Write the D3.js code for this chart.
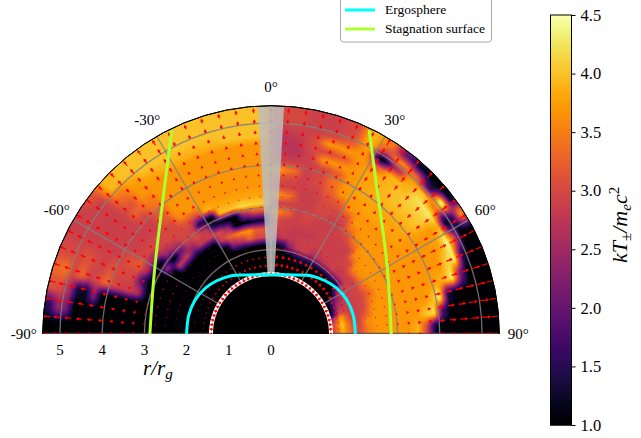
<!DOCTYPE html>
<html>
<head>
<meta charset="utf-8">
<script src="https://cdn.jsdelivr.net/npm/d3@7"></script>
<style>
  html, body { margin: 0; padding: 0; background: #fff; }
  text { font-family: "Liberation Serif", serif; fill: #000; }
</style>
</head>
<body>
<div id="chart"></div>
<script>
// cell centres of the temperature map
const thetaCenters = [-87.5, -82.5, -77.5, -72.5, -67.5, -62.5, -57.5, -52.5, -47.5, -42.5, -37.5, -32.5, -27.5, -22.5, -17.5, -12.5, -7.5, -2.5,
  2.5, 7.5, 12.5, 17.5, 22.5, 27.5, 32.5, 37.5, 42.5, 47.5, 52.5, 57.5, 62.5, 67.5, 72.5, 77.5, 82.5, 87.5];
const radiusCenters = [1.5, 1.7, 1.9, 2.1, 2.3, 2.5, 2.7, 2.9, 3.1, 3.3, 3.5, 3.7, 3.9, 4.1, 4.3, 4.5, 4.7, 4.9, 5.1, 5.3];

// kT/mc2, one line per angle, inner radius first
const temperature = [
  [1, 1, 1, 1, 1, 1, 1, 1, 1, 1, 1, 1, 1, 1, 1, 1, 1, 1, 1, 1],
  [1, 1, 1, 1, 1, 1, 1, 1, 1, 1, 1, 1, 1, 1, 1, 1, 1, 2.2, 2.4, 1.5],
  [1, 1, 1, 1, 1, 1, 1, 1, 1, 1, 1, 1, 1, 1, 2.3, 1.2, 1.3, 2.6, 3, 3.1],
  [1, 1, 1, 1, 1, 1, 1, 1, 1.2, 2.6, 2.9, 2.9, 3, 3.3, 3, 2.9, 3.3, 3, 3.4, 3.3],
  [1, 1, 1, 1, 1, 1, 1, 1, 1, 1.8, 2.9, 3, 3, 3.1, 2.9, 3, 3.1, 3, 3, 3],
  [1, 1, 1, 1, 1, 1, 1, 1, 1.1, 2.6, 3.2, 3.1, 3, 2.9, 2.9, 2.9, 2.9, 2.9, 2.9, 2.9],
  [1, 1, 1, 1, 1, 1, 1, 2.3, 1, 2.5, 3, 2.9, 2.9, 2.9, 2.9, 2.9, 2.9, 2.9, 2.9, 2.9],
  [1, 1, 1, 1, 1, 1, 2.8, 1, 2.4, 2.9, 3, 2.9, 2.9, 2.9, 2.9, 2.9, 2.9, 2.9, 2.9, 3.1],
  [1, 1, 1, 1, 1, 1, 2.8, 2, 2.7, 3, 3, 2.9, 2.9, 3, 3.3, 3.1, 3.3, 3.5, 3.9, 3.9],
  [1, 1, 1, 1, 1, 1, 2.2, 2.8, 3, 3, 3, 3.2, 3.2, 3.4, 3.5, 3.7, 3.7, 3.8, 4, 4],
  [1, 1, 1, 1, 1, 1, 2.8, 3, 2.9, 3.1, 3.6, 3.7, 3.7, 3.7, 3.7, 3.7, 3.8, 4, 4, 4],
  [1, 1, 1, 1, 1, 1, 2.9, 2.8, 1.4, 3, 3.7, 3.7, 3.7, 3.7, 3.7, 3.7, 3.9, 4, 4, 4],
  [1, 1, 1, 1, 1, 2.9, 3, 1.3, 1, 3.9, 3.7, 3.7, 3.7, 3.7, 3.7, 3.7, 3.9, 4, 4, 4],
  [1, 1, 1, 1, 2.4, 3.3, 2.5, 1, 4, 3.8, 3.7, 3.7, 3.7, 3.7, 3.7, 3.7, 3.9, 4, 4, 4],
  [1, 1, 1, 1, 2.7, 3.6, 1, 1, 4, 3.8, 3.7, 3.7, 3.7, 3.7, 3.7, 3.7, 3.9, 4, 4, 4],
  [1, 1, 1, 1, 3.2, 3.7, 1, 2.5, 4.2, 3.8, 3.7, 3.7, 3.7, 3.7, 3.7, 3.7, 4, 4, 4, 4],
  [1, 1, 1, 1, 3, 3.2, 1.2, 3, 4.1, 3.8, 3.7, 3.7, 3.7, 3.7, 3.7, 3.7, 4, 4, 4, 4],
  [1, 1, 1, 1, 3, 3.2, 1.2, 3, 4.1, 3.8, 3.7, 3.7, 3.7, 3.7, 3.7, 3.7, 4, 4, 4, 4],
  [1, 1, 1, 1, 2.6, 2.9, 3, 3.6, 2.9, 3.7, 2.9, 3.1, 3.7, 2.9, 2.8, 2.7, 2.7, 2.9, 3, 3],
  [1, 1, 1, 1.4, 2.8, 2.9, 2.9, 3.3, 2.9, 3.4, 2.9, 3, 3.4, 2.9, 2.7, 2.7, 2.8, 2.9, 3, 3],
  [1, 1, 1, 2.4, 2.8, 2.8, 2.9, 2.9, 2.9, 2.9, 2.9, 2.9, 2.9, 2.9, 2.9, 3, 3, 2.9, 2.9, 2.9],
  [1, 1, 1.3, 2.8, 2.9, 2.8, 2.9, 3, 2.9, 2.9, 2.9, 3, 3, 3, 3.7, 3, 3.7, 3, 2.9, 2.9],
  [1, 1, 1.4, 2.9, 2.9, 2.8, 2.9, 2.9, 3, 3, 3.1, 3.3, 3.4, 3.2, 3.7, 3.2, 3.7, 3.2, 3, 3],
  [1, 1, 1.3, 2.6, 2.9, 2.9, 2.9, 2.9, 2.9, 3, 3.2, 3.7, 3.7, 3.7, 3.7, 3.7, 3.7, 3.7, 3.9, 3.9],
  [1, 1, 1.3, 2.7, 2.9, 2.9, 2.9, 2.9, 2.9, 3.1, 3.7, 3.7, 3.8, 3.8, 3.8, 3.8, 3.2, 1, 3, 3.5],
  [1, 1, 1.2, 2.8, 2.9, 2.9, 2.9, 3, 3.4, 3.7, 3.7, 3.8, 3.8, 3.9, 3.9, 3.9, 3.9, 2.6, 3.6, 2],
  [1, 1, 1.2, 2.9, 2.9, 2.9, 2.9, 3.4, 3.7, 3.7, 3.7, 3.8, 3.8, 3.9, 4, 4, 3.9, 3.8, 3.2, 1.2],
  [1, 1, 1.3, 2.7, 2.9, 3, 3.6, 3.7, 3.7, 3.7, 3.7, 3.8, 3.8, 3.9, 4, 4.1, 4.2, 4, 1.6, 1],
  [1, 1, 1.1, 2.7, 3, 3.6, 3.7, 3.7, 3.7, 3.7, 3.7, 3.8, 3.8, 3.9, 4, 4.1, 4.3, 3.4, 4.4, 1.2],
  [1, 1.2, 2.6, 2.9, 2.9, 3.6, 3.7, 3.7, 3.7, 3.7, 3.7, 3.7, 3.7, 3.7, 3.7, 3.7, 3.9, 1.2, 1.6, 3.5],
  [1, 2.2, 2.8, 2.9, 3, 3.5, 3.7, 3.7, 3.7, 3.7, 3.7, 3.7, 3.7, 3.7, 3.7, 3.8, 4.4, 3, 1, 1],
  [1, 2.6, 2.9, 2.9, 3, 3.3, 3.7, 3.7, 3.7, 3.7, 3.7, 3.7, 3.7, 3.7, 3.7, 4.1, 4.3, 1.5, 1, 1],
  [1.3, 3, 2.9, 2.9, 3, 3.6, 3.7, 3.7, 3.7, 3.7, 3.7, 3.7, 3.7, 3.8, 3.9, 4.3, 2.2, 1, 1, 1],
  [2.6, 3.8, 3, 2.9, 3.2, 3.7, 3.7, 3.7, 3.7, 3.7, 3.7, 3.7, 3.9, 4.3, 1.4, 1, 1, 1, 1, 1],
  [3, 4, 3.2, 2.9, 3.6, 3.7, 3.7, 3.7, 3.7, 3.7, 3.7, 4, 4.2, 1.8, 1, 1, 1, 1, 1, 1],
  [3, 3.9, 3.3, 3, 3.5, 3.7, 3.7, 3.7, 3.7, 3.7, 3.9, 3, 1.3, 1, 1, 1, 1, 1, 1, 1],
];

// quiver sample points and arrow sizes read per angle band
const quiverThetas = [-90, -85.5, -81, -76.5, -72, -67.5, -63, -58.5, -54, -49.5, -45, -40.5, -36, -31.5, -27, -22.5, -18, -13.5, -9, -4.5, 0,
  4.5, 9, 13.5, 18, 22.5, 27, 31.5, 36, 40.5, 45, 49.5, 54, 58.5, 63, 67.5, 72, 76.5, 81, 85.5, 90];
const quiverRadii = [1.38, 1.6, 1.8, 2, 2.25, 2.5, 2.75, 3, 3.25, 3.5, 3.75, 4, 4.25, 4.5, 4.75, 5, 5.25];
const bandLimits = [30, 60, 75, 91];
const arrowSizesLeft = [
  [4, 2.5, 2, 1.5, 1, 1, 1, 1.5, 1.5, 2, 2.5, 3, 3, 3.5, 4, 4.5, 5],
  [4, 2, 1.5, 1, 1, 1, 1.5, 2, 2, 3, 3, 4, 4, 5, 5, 6, 6],
  [4, 1.5, 1, 1, 1, 1.5, 1.5, 2, 3, 3, 4, 4, 5, 5, 6, 6.5, 7],
  [4, 1.5, 1, 1, 1, 1.5, 1.5, 2, 3, 3.5, 4, 5, 5.5, 6, 7, 7.5, 8],
];
const arrowSizesRight = [
  [4, 4, 3.5, 2.5, 1.5, 1, 1, 1.5, 1.5, 2, 2.5, 3, 3, 3.5, 4, 4.5, 5],
  [4, 4, 3.5, 2.5, 1.5, 1, 1.5, 2, 2, 3, 3.5, 4, 5, 5.5, 6, 7, 7.5],
  [4, 2.5, 2, 1, 1, 1.5, 1.5, 2, 3, 3.5, 4, 5, 6, 7, 8, 9, 10],
  [4, 1.5, 1, 1, 1, 1.5, 1.5, 2, 3, 3.5, 4, 6, 7, 8, 9, 10, 11],
];

const ergoThetas = [-90, -77, -66, -55, -45.5, -35, -22, 0, 22, 35, 45.5, 55, 66, 77, 90];
const ergoRadii = [2, 2, 1.97, 1.9, 1.8, 1.68, 1.51, 1.4, 1.51, 1.68, 1.8, 1.9, 1.97, 2, 2];
const stagLeftThetas = [-25.9, -38.9, -62, -90];
const stagLeftRadii = [5.38, 4.08, 3.13, 2.87];
const stagRightThetas = [25.7, 36.4, 58.5, 90];
const stagRightRadii = [5.36, 4.24, 3.22, 2.85];

const angleTicks = [-90, -60, -30, 0, 30, 60, 90];
const radiusTicks = [0, 1, 2, 3, 4, 5];
const gridRadii = [2, 3, 4, 5];
const colorTicks = [1, 1.5, 2, 2.5, 3, 3.5, 4, 4.5];

const width = 641;
const height = 438;
const cx = 271;
const cy = 334;
const rMax = 5.41;
const rHorizon = 1.375;
const rData = 1.47;

const r = d3.scaleLinear().domain([0, rMax]).range([0, 228.3]);
const rad = (deg) => (deg * Math.PI) / 180;
const color = d3.scaleSequential(d3.interpolateInferno).domain([1, 4.5]);

const svg = d3.select('#chart')
  .append('svg')
  .attr('width', width)
  .attr('height', height)
  .style('display', 'block');

const defs = svg.append('defs');
const arc = d3.arc();
const halfDisc = arc({
  innerRadius: 0, outerRadius: r(rMax), startAngle: rad(-90), endAngle: rad(90),
});
defs.append('clipPath').attr('id', 'half').append('path').attr('d', halfDisc);

const plot = svg.append('g').attr('transform', `translate(${cx} ${cy})`);
const clipped = plot.append('g').attr('clip-path', 'url(#half)');

// shade the temperature cells pixel by pixel, like pcolormesh with gouraud
const thetaIndex = d3.scaleLinear().domain([thetaCenters[0], thetaCenters[35]]).range([0, 35]).clamp(true);
const radiusIndex = d3.scaleLinear().domain([radiusCenters[0], radiusCenters[19]]).range([0, 19]).clamp(true);
const sampleTemperature = (theta, radius) => {
  const a = thetaIndex(theta);
  const b = radiusIndex(radius);
  const i = Math.min(Math.floor(a), 34);
  const j = Math.min(Math.floor(b), 18);
  const s = a - i;
  const u = s * s * (3 - 2 * s);
  const v = b - j;
  const near = temperature[i][j] * (1 - u) + temperature[i + 1][j] * u;
  const far = temperature[i][j + 1] * (1 - u) + temperature[i + 1][j + 1] * u;
  return near * (1 - v) + far * v;
};
const size = Math.ceil(r(rMax)) + 1;
const canvas = d3.create('canvas').attr('width', size * 2).attr('height', size).node();
const context = canvas.getContext('2d');
const pixels = context.createImageData(size * 2, size);
for (let y = 0; y < size; y += 1) {
  for (let x = 0; x < size * 2; x += 1) {
    const dx = x + 0.5 - size;
    const dy = size - y - 0.5;
    const theta = (Math.atan2(dx, dy) * 180) / Math.PI;
    const c = d3.rgb(color(sampleTemperature(theta, r.invert(Math.hypot(dx, dy)))));
    const k = (y * size * 2 + x) * 4;
    pixels.data[k] = c.r;
    pixels.data[k + 1] = c.g;
    pixels.data[k + 2] = c.b;
    pixels.data[k + 3] = 255;
  }
}
context.putImageData(pixels, 0, 0);
clipped.append('image')
  .attr('x', -size)
  .attr('y', -size)
  .attr('width', size * 2)
  .attr('height', size)
  .attr('href', canvas.toDataURL());

// gap under the first grid cell, then the hole
clipped.append('circle').attr('r', r(rData)).attr('fill', '#fff');
clipped.append('circle').attr('r', r(rHorizon)).attr('fill', '#000');

// grid
gridRadii.forEach((d) => {
  clipped.append('circle')
    .attr('r', r(d))
    .attr('fill', 'none')
    .attr('stroke', '#808080')
    .attr('stroke-opacity', 0.85)
    .attr('stroke-width', 1.3);
});
angleTicks.forEach((d) => {
  const side = Math.abs(d) === 90;
  clipped.append('line')
    .attr('x1', r(rData) * Math.sin(rad(d)))
    .attr('y1', -r(rData) * Math.cos(rad(d)))
    .attr('x2', r(rMax) * Math.sin(rad(d)))
    .attr('y2', -r(rMax) * Math.cos(rad(d)))
    .attr('stroke', side ? '#555' : '#808080')
    .attr('stroke-opacity', 0.85)
    .attr('stroke-width', side ? 2.4 : 1.3);
});

// velocity arrows
const arrows = clipped.append('g').attr('fill', '#f00');
quiverThetas.forEach((theta) => {
  const band = bandLimits.findIndex((limit) => Math.abs(theta) < limit);
  const sizes = theta < 0 ? arrowSizesLeft : arrowSizesRight;
  quiverRadii.forEach((radius, j) => {
    const length = sizes[band][j];
    const head = Math.min(length, 3.2);
    const shaft = 0.6;
    arrows.append('path')
      .attr('transform', `rotate(${theta}) translate(0 ${-r(radius)})`)
      .attr('d', `M${-shaft} 0L${shaft} 0L${shaft} ${-(length - head)}L${head * 0.55} ${-(length - head)}L0 ${-length}L${-head * 0.55} ${-(length - head)}L${-shaft} ${-(length - head)}Z`);
  });
});

// polar axis jet funnel
clipped.append('path')
  .attr('d', arc({
    innerRadius: r(rData), outerRadius: r(rMax), startAngle: rad(-3.3), endAngle: rad(3.3),
  }))
  .attr('fill', '#bdbdbd')
  .attr('fill-opacity', 0.85);

const radial = d3.lineRadial().curve(d3.curveCatmullRom);
const toLine = (thetas, radii) => radial(thetas.map((t, i) => [rad(t), r(radii[i])]));

plot.append('path')
  .attr('d', toLine(ergoThetas, ergoRadii))
  .attr('fill', 'none')
  .attr('stroke', '#00ffff')
  .attr('stroke-width', 3);
[[stagLeftThetas, stagLeftRadii], [stagRightThetas, stagRightRadii]].forEach(([t, q]) => {
  plot.append('path')
    .attr('d', toLine(t, q))
    .attr('fill', 'none')
    .attr('stroke', '#adff2f')
    .attr('stroke-width', 3);
});

// rim
plot.append('path')
  .attr('d', d3.arc()({
    innerRadius: r(rMax), outerRadius: r(rMax), startAngle: rad(-90), endAngle: rad(90),
  }))
  .attr('fill', 'none')
  .attr('stroke', '#000')
  .attr('stroke-width', 1);

// angle labels
angleTicks.forEach((d) => {
  const dist = r(rMax) + 19;
  plot.append('text')
    .attr('x', dist * Math.sin(rad(d)))
    .attr('y', -dist * Math.cos(rad(d)) + 5)
    .attr('text-anchor', 'middle')
    .style('font-size', '15px')
    .text(`${d}°`);
});

// radius labels
radiusTicks.forEach((d) => {
  plot.append('text')
    .attr('x', -r(d))
    .attr('y', 21)
    .attr('text-anchor', 'middle')
    .style('font-size', '15px')
    .text(d);
});

const rLabel = svg.append('text')
  .attr('x', 143)
  .attr('y', 375)
  .style('font-size', '21px')
  .style('font-style', 'italic');
rLabel.append('tspan').text('r/r');
rLabel.append('tspan').attr('dy', 4).style('font-size', '15px').text('g');

// legend
const legend = svg.append('g');
legend.append('rect')
  .attr('x', 340.5).attr('y', -4)
  .attr('width', 151).attr('height', 46)
  .attr('rx', 3)
  .attr('fill', '#fff')
  .attr('stroke', '#aaa');
[['Ergosphere', '#00ffff', 10], ['Stagnation surface', '#adff2f', 29]].forEach(([name, stroke, y]) => {
  legend.append('line')
    .attr('x1', 345).attr('x2', 375)
    .attr('y1', y).attr('y2', y)
    .attr('stroke', stroke)
    .attr('stroke-width', 3);
  legend.append('text')
    .attr('x', 385)
    .attr('y', y + 4)
    .style('font-size', '13.5px')
    .text(name);
});

// colorbar
const barY = d3.scaleLinear().domain([1, 4.5]).range([425, 15]);
const bar = svg.append('g');
d3.range(425, 15, -1).forEach((y) => {
  bar.append('rect')
    .attr('x', 550)
    .attr('y', y - 1)
    .attr('width', 22)
    .attr('height', 1.5)
    .attr('fill', color(barY.invert(y - 0.5)));
});
bar.append('rect')
  .attr('x', 550.5).attr('y', 15)
  .attr('width', 21).attr('height', 410)
  .attr('fill', 'none')
  .attr('stroke', '#000');

const barAxis = d3.axisRight(barY)
  .tickValues(colorTicks)
  .tickFormat(d3.format('.1f'))
  .tickSize(4)
  .tickPadding(5);
const barAxisG = svg.append('g')
  .attr('transform', 'translate(571.5 0)')
  .call(barAxis);
barAxisG.select('.domain').remove();
barAxisG.selectAll('text').style('font-size', '16.5px').style('font-family', '"Liberation Serif", serif');

const barLabel = svg.append('text')
  .attr('transform', 'translate(627 263) rotate(-90)')
  .style('font-size', '22px')
  .style('font-style', 'italic');
barLabel.append('tspan').text('kT');
barLabel.append('tspan').attr('dy', 4).style('font-size', '15px').style('font-style', 'normal').text('±');
barLabel.append('tspan').attr('dy', -4).text('/m');
barLabel.append('tspan').attr('dy', 4).style('font-size', '15px').text('e');
barLabel.append('tspan').attr('dy', -4).text('c');
barLabel.append('tspan').attr('dy', -8).style('font-size', '15px').style('font-style', 'normal').text('2');
</script>
</body>
</html>
